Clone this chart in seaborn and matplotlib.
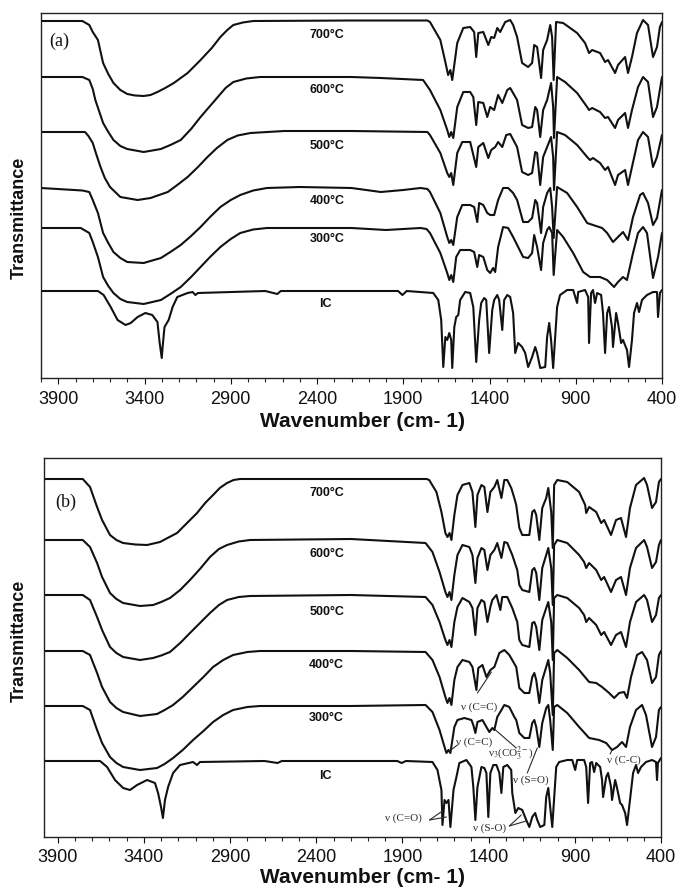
import numpy as np
import pandas as pd
import matplotlib
matplotlib.use("Agg")
import matplotlib.pyplot as plt
import seaborn as sns
from matplotlib.ticker import MultipleLocator

sns.set_theme(style="ticks")
plt.rcParams['font.family'] = ['Liberation Sans', 'DejaVu Sans']
plt.rcParams['mathtext.fontset'] = 'stix'

# ---------------- data: panel (a) ----------------
A_700_WN = [4000, 3760, 3720, 3700, 3670, 3640, 3610, 3580, 3540, 3500, 3455, 3405, 3365, 3325, 3280, 3230, 3150, 3075, 3010, 2960,
            2920, 2885, 2830, 2770, 2200, 1760, 1745, 1685, 1656, 1640,
            1627, 1616, 1587, 1552, 1512, 1489, 1477, 1465, 1436, 1407, 1390, 1373, 1355, 1338, 1309, 1280, 1263, 1240, 1211, 1176,
            1153, 1141, 1124, 1101, 1089, 1066, 1048, 1037, 1028, 1014, 973, 892, 846, 823, 805, 759, 730, 713, 672, 655,
            614, 597, 574, 545, 510, 481, 452, 429, 412, 400]
A_700_T = [357, 357, 353, 346, 338, 315, 304, 295, 288, 284, 282.5, 282, 283, 286, 290, 295, 305, 318, 330, 341,
           348, 353, 355.5, 357, 357.5, 357.5, 356, 338, 316, 303,
           308, 298, 335, 350, 351, 346, 321, 345, 346, 333, 341, 340, 350, 346, 356, 358, 353, 341, 315, 311,
           315, 333, 331, 300, 328, 338, 353, 341, 298, 356, 355, 345, 335, 325, 328, 325, 316, 318, 305, 313,
           321, 305, 321, 345, 358, 353, 321, 331, 351, 356]

A_600_WN = [4000, 3760, 3720, 3700, 3685, 3640, 3610, 3580, 3540, 3500, 3405, 3305, 3250, 3190, 3130, 3075, 3020, 2975, 2930, 2885,
            2810, 2730, 2200, 2030, 1785, 1745, 1685, 1645,
            1633, 1622, 1610, 1587, 1552, 1512, 1494, 1477, 1465, 1436, 1413, 1396, 1373, 1350, 1326, 1297, 1280, 1240, 1211, 1176,
            1153, 1135, 1124, 1106, 1089, 1066, 1043, 1031, 1026, 1008, 962, 892, 834, 823, 805, 759, 730, 713, 672, 655,
            614, 597, 574, 539, 510, 481, 452, 429, 400]
A_600_T = [301, 301, 298, 289, 278, 255, 246, 238, 232, 229, 226, 229, 233, 238, 249, 261, 272, 281, 290, 296,
           299.5, 301, 301, 300, 298, 288, 268, 248,
           241, 246, 240, 271, 286, 286, 281, 253, 276, 275, 261, 271, 268, 283, 275, 288, 290, 278, 253, 250,
           251, 271, 268, 241, 268, 278, 295, 271, 240, 301, 296, 285, 271, 268, 270, 266, 260, 261, 250, 258,
           265, 250, 268, 291, 301, 296, 261, 271, 301]

A_500_WN = [4000, 3745, 3725, 3700, 3680, 3655, 3630, 3600, 3540, 3440, 3365, 3265, 3210, 3150, 3090, 3035, 2980, 2920, 2860, 2785,
            2590, 2200, 1760, 1745, 1685, 1645, 1633,
            1622, 1610, 1587, 1558, 1512, 1477, 1465, 1436, 1407, 1390, 1367, 1350, 1326, 1303, 1280, 1240, 1211, 1176, 1153, 1135,
            1124, 1106, 1089, 1066, 1043, 1031, 1026, 1008, 962, 892, 834, 817, 800, 759, 730, 713, 672, 655, 614, 597,
            574, 539, 510, 481, 452, 429, 400]
A_500_T = [246, 246, 242, 235, 224, 211, 200, 191, 181, 178, 180, 186, 193, 201, 211, 221, 230, 238, 242.5, 245,
           247, 247, 246, 243, 225, 205, 201,
           205, 193, 225, 236, 236, 211, 231, 235, 220, 228, 231, 236, 231, 243, 244, 231, 206, 203, 205, 226,
           225, 193, 221, 231, 241, 221, 188, 246, 243, 233, 221, 218, 220, 215, 208, 211, 193, 203, 208, 193,
           211, 238, 246, 241, 211, 221, 243]

A_400_WN = [4000, 3760, 3720, 3700, 3670, 3640, 3610, 3580, 3540, 3500, 3405, 3305, 3250, 3190, 3130, 3075, 3020, 2960, 2900, 2845,
            2770, 2690, 2500, 2200, 2030, 1900, 1800, 1760, 1745, 1685, 1645,
            1633, 1622, 1610, 1587, 1558, 1512, 1489, 1471, 1460, 1436, 1413, 1396, 1373, 1350, 1321, 1292, 1263, 1240, 1205, 1176,
            1153, 1135, 1124, 1101, 1089, 1066, 1048, 1037, 1028, 1008, 950, 892, 834, 800, 747, 718, 684, 655, 626, 597,
            568, 527, 510, 481, 452, 429, 400]
A_400_T = [190, 187.5, 186, 178, 165, 145, 135, 126, 120, 116, 115, 120, 126, 133, 142, 151, 161, 171, 178, 183,
           187.5, 190, 191, 190, 186, 188, 190, 189, 186, 165, 141,
           135, 138, 133, 161, 173, 173, 171, 156, 175, 173, 165, 163, 163, 178, 190, 190, 185, 178, 156, 156,
           160, 178, 175, 145, 171, 185, 190, 171, 140, 191, 185, 171, 155, 153, 150, 145, 136, 141, 146, 138,
           161, 183, 185, 175, 153, 160, 188]

A_300_WN = [4000, 3770, 3720, 3700, 3670, 3640, 3610, 3580, 3540, 3500, 3405, 3305, 3250, 3190, 3130, 3075, 3020, 2960, 2900, 2845,
            2770, 2690, 2200, 2000, 1800, 1765, 1745, 1685, 1645,
            1633, 1622, 1610, 1593, 1570, 1512, 1489, 1471, 1460, 1436, 1413, 1396, 1379, 1367, 1350, 1321, 1292, 1263, 1234, 1205,
            1176, 1153, 1141, 1124, 1101, 1089, 1066, 1054, 1037, 1028, 1008, 973, 915, 857, 817, 759, 718, 678, 655, 626,
            603, 568, 539, 510, 487, 452, 423, 400]
A_300_T = [150, 150, 145, 136, 121, 101, 92, 85, 79, 76, 74, 78, 84, 91, 101, 111, 121, 131, 139, 145,
           148.5, 150, 150, 148, 150, 149, 145, 125, 105,
           98, 103, 96, 121, 128, 128, 126, 111, 123, 121, 108, 105, 110, 106, 131, 151, 150, 141, 131, 121,
           120, 125, 143, 131, 108, 135, 148, 151, 145, 103, 148, 141, 125, 106, 101, 101, 98, 91, 96, 101,
           98, 125, 145, 151, 145, 100, 121, 145]

A_IC_WN = [4000, 3670, 3637, 3596, 3556, 3510, 3480, 3440, 3395, 3355, 3325, 3312, 3300, 3295, 3284, 3260, 3237, 3210, 3150, 3121,
           3105, 3090, 2700, 2630, 2610, 1930, 1905, 1880, 1726, 1697, 1680, 1668, 1656, 1645, 1633, 1622, 1616, 1604, 1593, 1581,
           1570, 1541, 1512, 1494, 1477, 1460, 1448, 1431, 1419, 1402, 1384, 1373, 1355, 1344, 1326, 1315, 1297, 1280, 1263, 1251,
           1234, 1211, 1193, 1176, 1153, 1135, 1124, 1106, 1077, 1066, 1054, 1043, 1031, 1008, 991, 950, 915, 892, 886, 846,
           828, 823, 811, 800, 788, 776, 753, 742, 730, 718, 707, 690, 684, 666, 655, 637, 626, 603, 591, 574,
           562, 545, 533, 516, 487, 452, 429, 423, 412, 400]
A_IC_T = [87, 87, 83, 71, 58, 53, 55, 61, 65, 63, 56, 35, 20, 31, 51, 58, 71, 81, 85, 86,
          83, 85, 87, 84, 87, 87, 83, 87, 85, 78, 58, 11, 41, 38, 45, 38, 10, 51, 61, 63,
          78, 86, 85, 71, 16, 58, 75, 80, 78, 25, 68, 78, 83, 78, 48, 78, 83, 81, 65, 25,
          35, 31, 25, 11, 21, 31, 25, 10, 11, 41, 55, 38, 10, 71, 83, 88, 88, 75, 86, 88,
          81, 35, 85, 88, 75, 85, 83, 65, 25, 65, 71, 51, 31, 65, 55, 35, 38, 28, 11, 38,
          65, 75, 66, 78, 83, 86, 86, 61, 85, 88]

# ---------------- data: panel (b) ----------------
B_700_WN = [4000, 3755, 3713, 3672, 3643, 3597, 3560, 3521, 3450, 3382, 3307, 3208, 3150, 3092, 3045, 2999, 2960, 2918, 2880, 2843,
            2200, 1760, 1745, 1703, 1674, 1651,
            1639, 1627, 1616, 1599, 1581, 1552, 1512, 1494, 1477, 1465, 1442, 1425, 1407, 1390, 1367, 1350, 1326, 1309, 1292, 1269,
            1251, 1240, 1222, 1205, 1164, 1147, 1135, 1124, 1106, 1089, 1066, 1054, 1037, 1028, 1020, 1002, 944, 875, 840, 834,
            817, 776, 747, 730, 690, 661, 632, 603, 580, 545, 498, 481, 452, 429, 412, 400]
B_700_T = [358, 358, 350, 330, 317, 302, 297, 294, 292.5, 292, 295, 304, 314, 324, 334, 342, 349, 354, 357, 358,
           358, 358, 357, 345, 325, 304,
           300, 304, 297, 322, 342, 352, 354, 345, 310, 342, 352, 350, 325, 345, 350, 357, 339, 357, 357, 349,
           339, 332, 309, 302, 302, 325, 327, 322, 297, 329, 339, 349, 325, 289, 352, 357, 355, 345, 332, 324,
           330, 325, 314, 317, 302, 317, 319, 300, 329, 352, 359, 352, 329, 335, 355, 358]

B_600_WN = [4000, 3755, 3713, 3672, 3643, 3597, 3560, 3521, 3423, 3347, 3300, 3249, 3190, 3133, 3075, 3017, 2965, 2918, 2850, 2785,
            2200, 1766, 1726, 1685, 1651, 1639,
            1627, 1616, 1599, 1581, 1552, 1512, 1494, 1477, 1465, 1442, 1425, 1407, 1390, 1367, 1350, 1326, 1309, 1292, 1263, 1234,
            1222, 1205, 1164, 1147, 1135, 1124, 1106, 1089, 1066, 1054, 1037, 1028, 1020, 1002, 944, 875, 846, 834, 817, 776,
            747, 730, 690, 661, 632, 603, 580, 545, 498, 481, 452, 429, 412, 400]
B_600_T = [297, 297, 290, 274, 260, 244, 238, 234, 231, 232, 235, 239, 247, 257, 268, 280, 288, 292, 295.5, 297,
           298, 294, 285, 265, 245, 240,
           245, 237, 262, 282, 292, 290, 282, 254, 279, 289, 287, 267, 282, 287, 294, 279, 295, 294, 282, 267,
           252, 247, 245, 267, 269, 264, 237, 269, 282, 289, 269, 232, 292, 297, 294, 282, 275, 269, 274, 267,
           257, 260, 245, 257, 260, 242, 269, 289, 297, 290, 269, 275, 292, 297]

B_500_WN = [4000, 3755, 3713, 3672, 3643, 3597, 3560, 3521, 3423, 3347, 3300, 3249, 3190, 3133, 3075, 3017, 2965, 2918, 2850, 2785,
            2200, 1766, 1726, 1685, 1651, 1639,
            1627, 1616, 1599, 1581, 1552, 1512, 1494, 1477, 1465, 1442, 1425, 1407, 1390, 1379, 1355, 1332, 1321, 1292, 1263, 1234,
            1222, 1205, 1164, 1147, 1135, 1124, 1106, 1089, 1066, 1054, 1037, 1028, 1020, 1002, 944, 875, 846, 834, 817, 776,
            747, 730, 690, 661, 632, 603, 580, 545, 498, 481, 452, 429, 412, 400]
B_500_T = [242, 242, 237, 220, 207, 190, 184, 180, 177, 179, 181.5, 185, 194, 204, 214, 224, 232, 237, 240, 241,
           242, 240, 232, 215, 197, 192,
           197, 190, 215, 230, 239, 235, 229, 202, 229, 237, 235, 215, 230, 237, 242, 227, 240, 240, 229, 215,
           197, 192, 190, 214, 215, 210, 187, 217, 229, 235, 215, 177, 239, 242, 239, 229, 222, 215, 219, 212,
           202, 205, 192, 202, 205, 190, 215, 235, 242, 237, 215, 222, 239, 242]

B_400_WN = [4000, 3755, 3713, 3672, 3643, 3597, 3560, 3521, 3423, 3324, 3280, 3231, 3175, 3115, 3055, 2999, 2940, 2883, 2800, 2727,
            2200, 1766, 1726, 1685, 1651, 1639,
            1627, 1616, 1599, 1581, 1552, 1512, 1494, 1471, 1460, 1436, 1413, 1390, 1367, 1338, 1309, 1280, 1240, 1222, 1193, 1164,
            1147, 1135, 1124, 1106, 1089, 1066, 1054, 1043, 1028, 1020, 1002, 944, 875, 817, 776, 742, 701, 672, 643, 614,
            597, 574, 539, 510, 481, 452, 429, 412, 400]
B_400_T = [186, 186, 182, 164, 150, 135, 129, 125, 121, 123, 127, 132, 140, 150, 160, 170, 177, 182, 185, 186,
           186, 185, 177, 160, 140, 134,
           139, 132, 157, 170, 177, 175, 170, 147, 169, 172, 160, 167, 170, 184, 187, 182, 170, 149, 144, 144,
           160, 164, 157, 134, 157, 170, 177, 164, 122, 184, 187, 179, 167, 155, 154, 150, 144, 139, 144, 145,
           139, 160, 182, 185, 177, 154, 160, 182, 186]

B_300_WN = [4000, 3755, 3713, 3672, 3643, 3597, 3560, 3521, 3423, 3324, 3280, 3231, 3175, 3115, 3055, 2999, 2940, 2883, 2800, 2727,
            2200, 1766, 1726, 1685, 1656, 1645,
            1633, 1622, 1599, 1581, 1541, 1500, 1489, 1477, 1465, 1436, 1413, 1396, 1379, 1367, 1350, 1326, 1309, 1280, 1251, 1240,
            1222, 1193, 1164, 1147, 1135, 1124, 1106, 1089, 1066, 1054, 1043, 1028, 1020, 1002, 944, 875, 817, 759, 718, 684,
            655, 626, 603, 580, 545, 510, 487, 452, 429, 412, 400]
B_300_T = [131, 131, 127, 107, 94, 80, 74, 70, 67, 69, 73, 79, 87, 97, 106, 115, 122, 127, 130, 131,
           131, 132, 125, 107, 90, 84,
           87, 84, 110, 117, 119, 117, 112, 104, 115, 117, 110, 105, 109, 107, 120, 127, 132, 130, 120, 117,
           104, 99, 99, 114, 117, 110, 90, 114, 129, 132, 117, 87, 130, 132, 124, 110, 99, 97, 94, 87,
           90, 95, 90, 110, 127, 132, 122, 90, 100, 127, 130]

B_IC_WN = [4000, 3655, 3614, 3568, 3521, 3481, 3440, 3382, 3336, 3318, 3301, 3290, 3278, 3260, 3231, 3191, 3115, 3092, 3075, 2700,
           2625, 2600, 1930, 1905, 1880, 1726, 1697, 1674, 1668, 1656, 1645, 1633, 1622, 1604, 1587, 1570, 1529, 1500, 1489, 1477,
           1465, 1442, 1425, 1413, 1402, 1390, 1373, 1355, 1338, 1326, 1315, 1292, 1269, 1263, 1245, 1228, 1205, 1182, 1164, 1147,
           1130, 1118, 1101, 1077, 1066, 1054, 1043, 1031, 1008, 991, 944, 915, 898, 886, 846, 834, 823, 811, 800, 788,
           776, 753, 742, 736, 718, 707, 690, 684, 666, 655, 637, 626, 608, 597, 580, 562, 545, 533, 516, 487,
           452, 429, 423, 418, 400]
B_IC_T = [76, 76, 70, 57, 49, 47, 52, 57, 54, 44, 30, 19, 37, 50, 64, 72, 75, 72, 75, 76,
          74, 76, 76, 74, 76, 75, 67, 47, 12, 37, 34, 37, 10, 47, 60, 74, 77, 70, 50, 17,
          50, 70, 69, 64, 20, 64, 72, 72, 64, 44, 70, 72, 67, 44, 24, 29, 27, 17, 10, 20,
          24, 17, 10, 12, 40, 49, 30, 10, 70, 75, 77, 77, 67, 77, 77, 70, 34, 74, 75, 65,
          74, 70, 57, 40, 60, 64, 50, 37, 57, 49, 34, 32, 24, 12, 37, 64, 72, 64, 70, 75,
          77, 75, 57, 74, 79]

SAMPLE_LABELS = ["700°C", "600°C", "500°C", "400°C", "300°C", "IC"]
A_LABEL_POS = [(2340, 343), (2340, 288), (2340, 232), (2340, 177), (2340, 139), (2350, 74)]
B_LABEL_POS = [(2340, 344), (2340, 283), (2340, 225), (2340, 172), (2340, 119), (2350, 61)]

X_TICKS = [3900, 3400, 2900, 2400, 1900, 1400, 900, 400]

# annotations panel (b): text, text position, list of line segments (start, end)
B_NOTES = [
    ("ν (C=C)", (1454, 130), [((1465, 144), (1384, 165))]),
    ("ν (C=C)", (1483, 95), [((1581, 92), (1627, 86))]),
    (r"ν$_3$(CO$_3^{2-}$)", (1269, 83), [((1240, 89), (1367, 108))]),
    ("ν (S=O)", (1158, 57), [((1176, 64), (1118, 89))]),
    ("ν (C-C)", (614, 77), [((695, 83), (684, 87))]),
    ("ν (C=O)", (1894, 19), [((1743, 17), (1668, 26)), ((1743, 17), (1645, 20))]),
    ("ν (S-O)", (1396, 9), [((1280, 11), (1211, 22)), ((1280, 11), (1182, 16))]),
]

# ---------------- figure ----------------
W, H = 683, 892
fig = plt.figure(figsize=(W / 100, H / 100), dpi=100)


def make_axes(l, t, r, b):
    return fig.add_axes([l / W, 1 - b / H, (r - l) / W, (b - t) / H])


axA = make_axes(41, 13, 662, 378)
axB = make_axes(44, 458, 661, 837)

panels = [
    (axA, [(A_700_WN, A_700_T), (A_600_WN, A_600_T), (A_500_WN, A_500_T),
           (A_400_WN, A_400_T), (A_300_WN, A_300_T), (A_IC_WN, A_IC_T)],
     A_LABEL_POS, (4000, 400), (0, 365), "(a)", (0.013, 0.923),
     (-0.021, 0.438), (0.518, -0.093)),
    (axB, [(B_700_WN, B_700_T), (B_600_WN, B_600_T), (B_500_WN, B_500_T),
           (B_400_WN, B_400_T), (B_300_WN, B_300_T), (B_IC_WN, B_IC_T)],
     B_LABEL_POS, (3980, 400), (0, 379), "(b)", (0.018, 0.884),
     (-0.026, 0.517), (0.517, -0.082)),
]

for ax, curves, lpos, xlim, ylim, tag, tagpos, ylc, xlc in panels:
    for (wn, t), lab in zip(curves, SAMPLE_LABELS):
        df = pd.DataFrame({"wn": wn, "T": t})
        sns.lineplot(data=df, x="wn", y="T", ax=ax, color="#111111", linewidth=1.5,
                     estimator=None, sort=True, legend=False)
    for lab, (x, y) in zip(SAMPLE_LABELS, lpos):
        ax.text(x, y, lab, ha="center", va="center", fontsize=9, fontweight="bold", color="#111111")
    ax.set_xlim(*xlim)
    ax.set_ylim(*ylim)
    ax.set_xticks(X_TICKS)
    ax.set_xticklabels([str(v) for v in X_TICKS])
    ax.xaxis.set_minor_locator(MultipleLocator(100))
    ax.set_yticks([])
    ax.tick_params(axis="x", which="major", direction="out", length=4, width=0.8,
                   labelsize=13, pad=5, colors="#111111")
    ax.tick_params(axis="x", which="minor", direction="out", length=3, width=0.8)
    for s in ax.spines.values():
        s.set_visible(True)
        s.set_linewidth(1.0)
        s.set_color("#222222")
    ax.set_xlabel("Wavenumber (cm- 1)", fontsize=15, fontweight="bold", color="#111111")
    ax.set_ylabel("Transmittance", fontsize=13, fontweight="bold", color="#111111")
    ax.yaxis.set_label_coords(*ylc)
    ax.xaxis.set_label_coords(*xlc)
    ax.text(tagpos[0], tagpos[1], tag, transform=ax.transAxes, ha="left", va="center",
            fontsize=13, family=["Liberation Serif", "DejaVu Serif"], color="#111111")
    ax.set_facecolor("white")

for text, pos, segs in B_NOTES:
    axB.text(pos[0], pos[1], text, ha="center", va="center", fontsize=8,
             family=["Liberation Serif", "DejaVu Serif"], color="#2a2a2a")
    for (p0, p1) in segs:
        axB.annotate("", xy=p1, xytext=p0,
                     arrowprops=dict(arrowstyle="-", lw=0.8, color="#2a2a2a",
                                     shrinkA=0, shrinkB=0))

fig.savefig("out.png", dpi=100, facecolor="white")
